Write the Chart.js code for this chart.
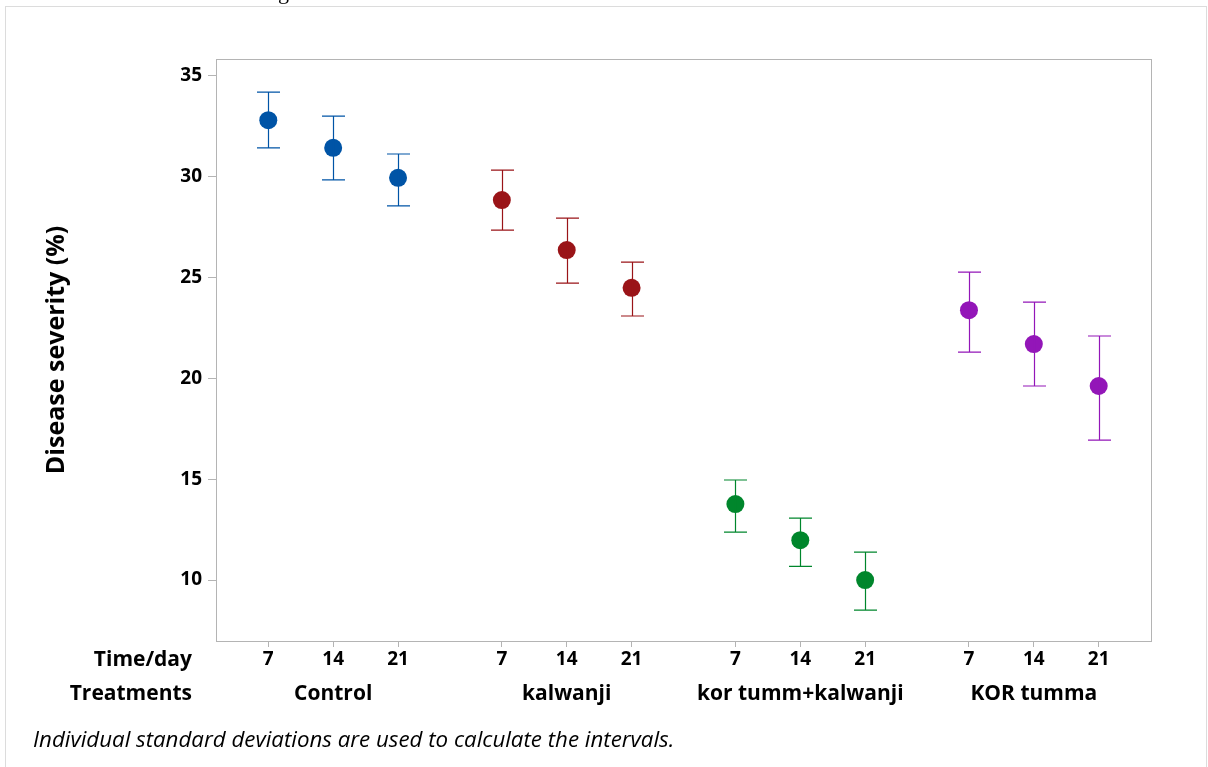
<!DOCTYPE html>
<html>
<head>
<meta charset="utf-8">
<script src="https://cdn.jsdelivr.net/npm/chart.js@4.4.1/dist/chart.umd.min.js"></script>
<style>
  html, body { margin: 0; padding: 0; background: #ffffff; }
  #wrap { position: relative; width: 1208px; height: 767px; }
  canvas { display: block; }
</style>
</head>
<body>
<div id="wrap"><canvas id="c" width="1208" height="767"></canvas></div>
<script>
// ---- data ----
const treatments = ['Control', 'kalwanji', 'kor tumm+kalwanji', 'KOR tumma'];
const days = ['7', '14', '21'];
const yTickValues = [10, 15, 20, 25, 30, 35];

const controlMean  = [32.80, 31.43, 29.94];
const controlUpper = [34.19, 33.00, 31.12];
const controlLower = [31.42, 29.84, 28.55];

const kalwanjiMean  = [28.84, 26.36, 24.49];
const kalwanjiUpper = [30.32, 27.94, 25.76];
const kalwanjiLower = [27.35, 24.72, 23.09];

const korKalMean  = [13.77, 11.98, 10.00];
const korKalUpper = [14.96, 13.07, 11.39];
const korKalLower = [12.38, 10.68, 8.51];

const korTummaMean  = [23.38, 21.70, 19.62];
const korTummaUpper = [25.27, 23.78, 22.10];
const korTummaLower = [21.30, 19.62, 16.94];

const seriesColors = ['#0054A6', '#9A1418', '#00862C', '#9316B8'];

// ---- build ----
const GROUP_GAP = 1.6;
const xPos = (g, t) => g * (days.length - 1 + GROUP_GAP) + t;

const means  = [controlMean, kalwanjiMean, korKalMean, korTummaMean];
const uppers = [controlUpper, kalwanjiUpper, korKalUpper, korTummaUpper];
const lowers = [controlLower, kalwanjiLower, korKalLower, korTummaLower];

const datasets = treatments.map((name, g) => ({
  label: name,
  data: days.map((d, t) => ({ x: xPos(g, t), y: means[g][t], lo: lowers[g][t], hi: uppers[g][t] })),
  backgroundColor: seriesColors[g],
  borderColor: seriesColors[g],
  pointRadius: 9,
  pointBorderWidth: 0,
  showLine: false
}));

const xTickValues = [];
const xTickLabels = {};
treatments.forEach((n, g) => days.forEach((d, t) => { xTickValues.push(xPos(g, t)); xTickLabels[xPos(g, t)] = d; }));

const WORD_FONT = 'bold 21px "Open Sans"';

const decor = {
  id: 'decor',
  beforeDraw(chart) {
    const ctx = chart.ctx;
    ctx.save();
    ctx.fillStyle = '#fff';
    ctx.fillRect(0, 0, chart.width, chart.height);
    // outer frame
    ctx.strokeStyle = '#dcdcdc';
    ctx.lineWidth = 1;
    ctx.strokeRect(5.5, 6.5, 1201, 800);
    // cut-off caption descender at top
    ctx.fillStyle = '#000';
    ctx.font = '22px "Liberation Serif"';
    ctx.textBaseline = 'alphabetic';
    ctx.fillText('g', 278, -1);
    ctx.restore();
  },
  afterDatasetsDraw(chart) {
    const ctx = chart.ctx;
    const xs = chart.scales.x, ys = chart.scales.y;
    ctx.save();
    chart.data.datasets.forEach((ds) => {
      ctx.strokeStyle = ds.borderColor;
      ctx.lineWidth = 1.2;
      ds.data.forEach((p) => {
        const x = Math.round(xs.getPixelForValue(p.x)) + 0.5;
        const yh = ys.getPixelForValue(p.hi);
        const yl = ys.getPixelForValue(p.lo);
        ctx.beginPath();
        ctx.moveTo(x, yh); ctx.lineTo(x, yl);
        ctx.moveTo(x - 11.5, yh); ctx.lineTo(x + 11.5, yh);
        ctx.moveTo(x - 11.5, yl); ctx.lineTo(x + 11.5, yl);
        ctx.stroke();
      });
    });
    ctx.restore();
  },
  afterDraw(chart) {
    const ctx = chart.ctx;
    const a = chart.chartArea;
    const xs = chart.scales.x;
    ctx.save();
    ctx.strokeStyle = '#b4b4b4';
    ctx.lineWidth = 1;
    ctx.strokeRect(Math.round(a.left) + 0.5, Math.round(a.top) + 0.5, Math.round(a.right - a.left), Math.round(a.bottom - a.top));
    ctx.fillStyle = '#000';
    ctx.font = WORD_FONT;
    ctx.textBaseline = 'middle';
    ctx.textAlign = 'right';
    ctx.fillText('Time/day', 192, 660);
    ctx.fillText('Treatments', 192, 694);
    ctx.textAlign = 'center';
    treatments.forEach((n, g) => {
      ctx.fillText(n, xs.getPixelForValue(xPos(g, 1)), 694);
    });
    ctx.textAlign = 'left';
    ctx.font = 'italic 22.3px "Open Sans"';
    ctx.fillText('Individual standard deviations are used to calculate the intervals.', 33, 741);
    ctx.restore();
  }
};

new Chart(document.getElementById('c'), {
  type: 'scatter',
  data: { datasets },
  plugins: [decor],
  options: {
    responsive: false,
    animation: false,
    devicePixelRatio: 1,
    layout: { padding: { left: 0, top: 59, right: 57, bottom: 0 } },
    plugins: { legend: { display: false }, tooltip: { enabled: false } },
    elements: { point: { hoverRadius: 9 } },
    scales: {
      x: {
        type: 'linear',
        min: -0.806,
        max: 13.606,
        border: { display: false },
        grid: { drawOnChartArea: false, drawTicks: true, tickLength: 6, color: '#b4b4b4' },
        afterBuildTicks(scale) { scale.ticks = xTickValues.map(v => ({ value: v })); },
        afterFit(scale) { scale.height = 126; },
        ticks: {
          autoSkip: false,
          maxRotation: 0,
          padding: 1,
          color: '#000',
          font: { family: 'Open Sans', size: 19, weight: 'bold' },
          callback: (v) => xTickLabels[v] || ''
        }
      },
      y: {
        type: 'linear',
        min: 6.98,
        max: 35.83,
        border: { display: false },
        grid: { drawOnChartArea: false, drawTicks: true, tickLength: 8, color: '#b4b4b4' },
        afterBuildTicks(scale) { scale.ticks = yTickValues.map(v => ({ value: v })); },
        afterFit(scale) { scale.width = 216; },
        ticks: {
          padding: 6,
          color: '#000',
          font: { family: 'Open Sans', size: 19, weight: 'bold' }
        },
        title: {
          display: true,
          text: 'Disease severity (%)',
          color: '#000',
          padding: { top: 42, bottom: 0 },
          font: { family: 'Open Sans', size: 25, weight: 'bold' }
        }
      }
    }
  }
});
</script>
</body>
</html>
